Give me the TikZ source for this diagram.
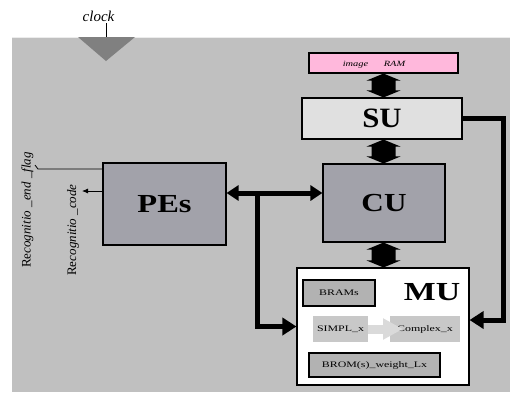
\documentclass[tikz,border=0pt]{standalone}
\usepackage{fontspec}
\setmainfont{Liberation Serif}
\usetikzlibrary{calc,arrows.meta}
\definecolor{bg}{HTML}{C0C0C0}
\definecolor{clk}{HTML}{808080}
\definecolor{ramc}{HTML}{FFB8DC}
\definecolor{suc}{HTML}{E0E0E0}
\definecolor{cuc}{HTML}{A2A2AA}
\definecolor{memc}{HTML}{B2B2B2}
\definecolor{subc}{HTML}{C8C8C8}
\definecolor{arrc}{HTML}{DADADA}
\newcommand\sx[2]{\scalebox{#1}[1]{#2}}
\newcommand\vdarrow[2]{\fill let \p1=(#1), \p2=(#2) in
  (\x1,\y1) -- (\x1+17pt,\y1-7pt) -- (\x1+12pt,\y1-7pt) -- (\x1+12pt,\y2+7pt) -- (\x1+17pt,\y2+7pt)
  -- (\x1,\y2) -- (\x1-17pt,\y2+7pt) -- (\x1-12pt,\y2+7pt) -- (\x1-12pt,\y1-7pt) -- (\x1-17pt,\y1-7pt) -- cycle;}
\tikzset{
  box/.style={draw, line width=1.1pt, inner sep=0pt},
  big/.style={font=\fontsize{26}{26}\selectfont\bfseries},
  small/.style={font=\fontsize{8.5}{9}\selectfont},
  lbl/.style={font=\fontsize{13}{13}\selectfont, rotate=90, inner sep=0pt},
  conn/.style={line width=5pt},
  bigtip/.style={-{Triangle[length=14pt,width=17pt]}},
  bothtip/.style={{Triangle[length=12pt,width=15pt]}-{Triangle[length=12pt,width=15pt]}}
}
\begin{document}
\begin{tikzpicture}[x=1pt,y=-1pt]
\useasboundingbox (0,0) rectangle (510,392);
\fill[white] (0,0) rectangle (510,392);
\fill[bg] (12,37) rectangle (510,392);
\draw[white!85!gray, line width=0.8pt] (12,37.4) -- (510,37.4);
% clock
\node[font=\fontsize{15}{15}\selectfont\itshape, inner sep=0pt] (clocklbl) at (98.5,16) {clock};
\coordinate (ctop) at (106,23);
\coordinate (cbase) at (106,37);
\draw[line width=0.9pt] (ctop) -- (cbase);
\fill[clk] (78,37) -- (135,37) -- (106,61) -- cycle;
% boxes
\node[box, fill=ramc, minimum width=149pt, minimum height=20pt] (ram) at (383.5,63) {};
\node[font=\fontsize{8}{8}\selectfont\itshape, inner sep=0pt] (ramlbl) at (374,64.5) {\sx{1.3}{image\hspace{12pt}RAM}};
\node[box, fill=suc, minimum width=160pt, minimum height=41pt, big] (su) at (382,118.5) {\fontsize{28}{28}\selectfont\sx{1.1}{SU}};
\node[box, fill=cuc, minimum width=122pt, minimum height=78pt, big] (cu) at (384,203) {\sx{1.2}{CU}};
\node[box, fill=white, minimum width=172pt, minimum height=117pt] (mu) at (383,326.5) {};
\node[big, inner sep=0pt] (mulbl) at (432,292) {\sx{1.3}{MU}};
\node[box, fill=cuc, minimum width=123pt, minimum height=82pt, big] (pes) at (164.5,204) {\sx{1.25}{PEs}};
% MU contents
\node[box, fill=memc, minimum width=72pt, minimum height=26pt, small] (brams) at (339,293) {\sx{1.4}{BRAMs}};
\node[fill=subc, minimum width=55pt, minimum height=26pt, inner sep=0pt, small] (simpl) at (340.5,329) {\sx{1.4}{SIMPL\_x}};
\node[fill=subc, minimum width=70pt, minimum height=26pt, inner sep=0pt, small] (complex) at (425,329) {\sx{1.4}{Complex\_x}};
\coordinate (sctip) at (403,329);
\draw[arrc, line width=9pt, -{Triangle[length=20pt,width=20pt]}] (simpl.east) -- (sctip);
\node[box, fill=memc, minimum width=131pt, minimum height=24pt, small] (brom) at (374.5,365) {\sx{1.4}{BROM(s)\_weight\_Lx}};
% block double arrows
\vdarrow{ram.south}{su.north}
\vdarrow{ram.south |- su.south}{cu.north}
\vdarrow{ram.south |- cu.south}{mu.north}
% thick connectors
\coordinate (j) at (257,193);
\draw[conn, bothtip] (pes.east |- j) -- (cu.west |- j);
\draw[conn, bigtip] (j) |- (mu.west);
\coordinate (r) at (503,320);
\draw[conn, bigtip] (su.east) -| (r) -- (mu.east |- r);
% PEs outputs
\coordinate (o1) at (38,169);
\coordinate (o2) at (82,191);
\draw[line width=0.8pt] (pes.west |- o1) -- (o1) -- ++(-3,-4);
\draw[line width=0.8pt, -{Latex[length=6pt,width=5pt]}] (pes.west |- o2) -- (o2);
\node[lbl] (flaglbl) at (27.5,210) {Re\textit{cognitio \_end \_flag}};
\node[lbl] (codelbl) at (73,230) {Re\textit{cognitio \_code}};
\end{tikzpicture}
\end{document}
